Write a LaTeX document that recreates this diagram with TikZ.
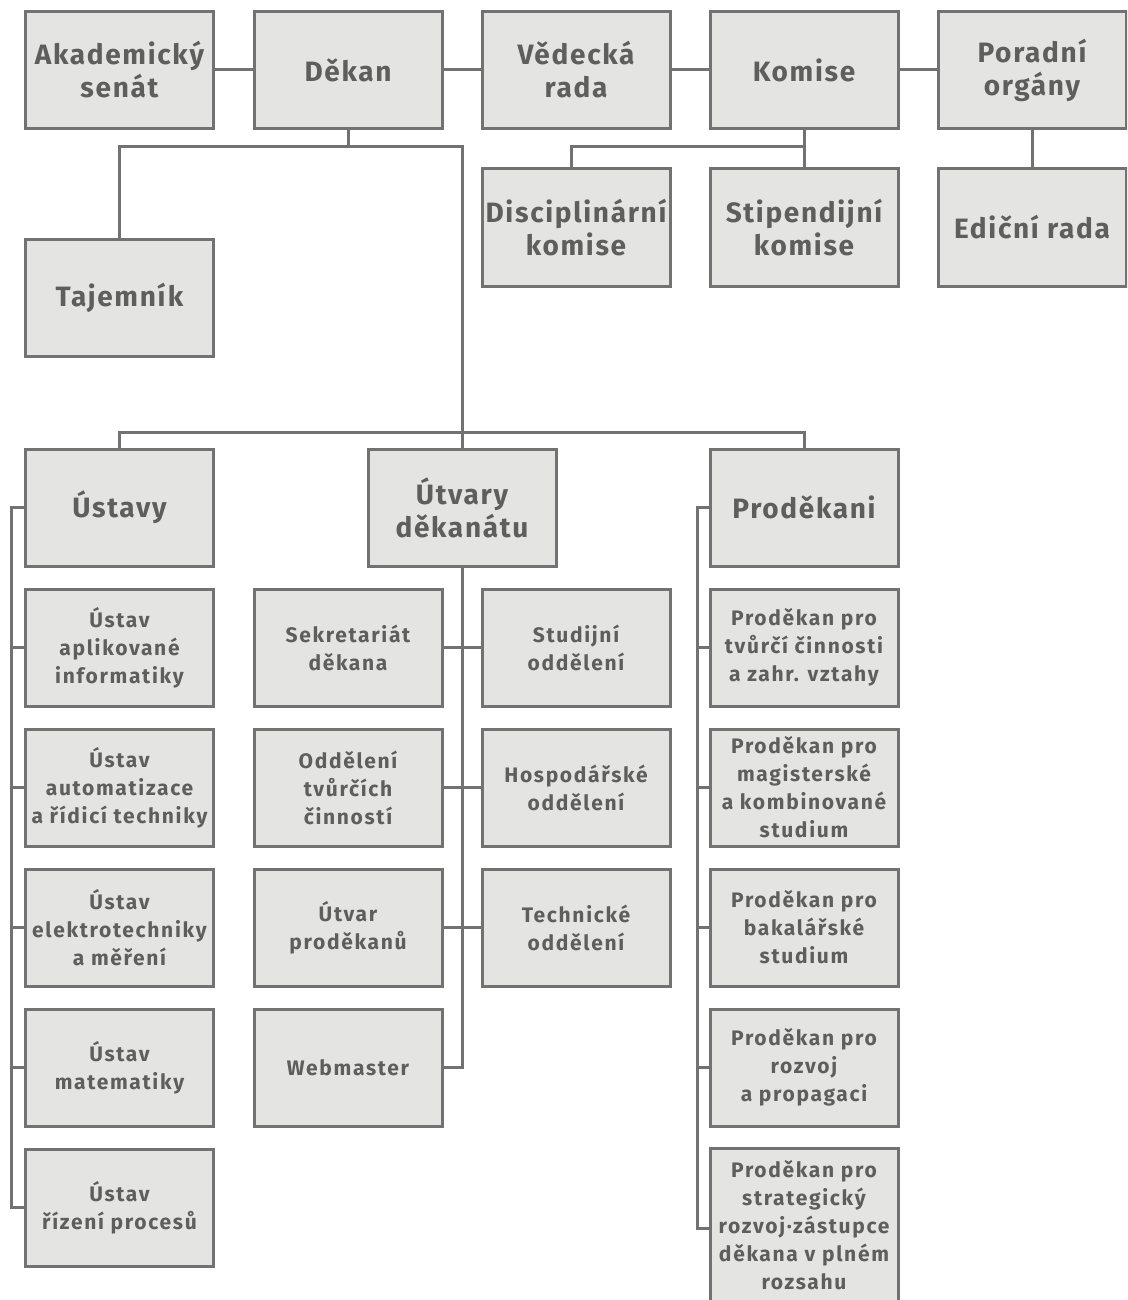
\documentclass[tikz,border=0pt]{standalone}
\usepackage{fontspec}
\setmainfont{Fira Sans}[LetterSpace=8]
\newfontfamily\bigfont{Fira Sans}[LetterSpace=6]
\usetikzlibrary{calc}
\definecolor{boxfill}{HTML}{E4E5E3}
\definecolor{boxline}{HTML}{727272}
\definecolor{boxtext}{HTML}{5E5E5E}
\begin{document}
\begin{tikzpicture}[x=1pt,y=-1pt,
  box/.style={draw=boxline, line width=3pt, fill=boxfill, text=boxtext,
    minimum width=188pt, minimum height=117pt, align=center, inner sep=0pt,
    font=\bfseries\fontsize{21}{28}\selectfont},
  big/.style={font=\bigfont\bfseries\fontsize{28}{33}\selectfont},
  link/.style={draw=boxline, line width=3pt}]
\useasboundingbox (0,0) rectangle (1127,1300);
\clip (0,0) rectangle (1127,1300);
\coordinate (ubus) at (11,0);
\coordinate (pbus) at (697,0);
\coordinate (lev1) at (0,147);
\coordinate (lev2) at (0,432);
% top row
\node[box,big] (aks) at (119.5,70) {Akademický\\senát};
\node[box,big] (dekan) at (348,70) {Děkan};
\node[box,big] (vr) at (576,70) {Vědecká\\rada};
\node[box,big] (kom) at (804,70) {Komise};
\node[box,big] (por) at (1032,70) {Poradní\\orgány};
% second row
\node[box,big] (disc) at (576,227.5) {Disciplinární\\komise};
\node[box,big] (stip) at (804,227.5) {Stipendijní\\komise};
\node[box,big] (edi) at (1032,227.5) {Ediční rada};
\node[box,big] (taj) at (119.5,297.5) {Tajemník};
% third level
\node[box,big] (ust) at (119.5,507.5) {Ústavy};
\node[box,big] (utv) at (462,507.5) {Útvary\\děkanátu};
\node[box,big] (prod) at (804,507.5) {Proděkani};
% ustavy
\node[box] (u1) at (119.5,647.5) {Ústav\\aplikované\\informatiky};
\node[box] (u2) at (119.5,787.5) {Ústav\\automatizace\\a řídicí techniky};
\node[box] (u3) at (119.5,927.5) {Ústav\\elektrotechniky\\a měření};
\node[box] (u4) at (119.5,1067.5) {Ústav\\matematiky};
\node[box] (u5) at (119.5,1207.5) {Ústav\\řízení procesů};
% utvary
\node[box] (sek) at (348,647.5) {Sekretariát\\děkana};
\node[box] (stud) at (576,647.5) {Studijní\\oddělení};
\node[box] (odd) at (348,787.5) {Oddělení\\tvůrčích\\činností};
\node[box] (hosp) at (576,787.5) {Hospodářské\\oddělení};
\node[box] (utpr) at (348,927.5) {Útvar\\proděkanů};
\node[box] (tech) at (576,927.5) {Technické\\oddělení};
\node[box] (web) at (348,1067.5) {Webmaster};
% prodekani
\node[box] (p1) at (804,647.5) {Proděkan pro\\tvůrčí činnosti\\a zahr. vztahy};
\node[box] (p2) at (804,787.5) {Proděkan pro\\magisterské\\a kombinované\\studium};
\node[box] (p3) at (804,927.5) {Proděkan pro\\bakalářské\\studium};
\node[box] (p4) at (804,1067.5) {Proděkan pro\\rozvoj\\a propagaci};
\node[box, minimum height=154pt] (p5) at (804,1225) {Proděkan pro\\strategický\\rozvoj·zástupce\\děkana v plném\\rozsahu};
% connectors top row
\draw[link] (aks.east) -- (dekan.west);
\draw[link] (dekan.east) -- (vr.west);
\draw[link] (vr.east) -- (kom.west);
\draw[link] (kom.east) -- (por.west);
% dekan tree
\draw[link] (dekan.south) -- (dekan.south |- lev1);
\draw[link] (taj.north) |- (utv.north |- lev1) -- (utv.north);
\draw[link] (ust.north) |- (prod.north |- lev2) -- (prod.north);
% komise
\draw[link] (kom.south) -- (stip.north);
\draw[link] ([xshift=-5pt]disc.north) |- (kom.south |- lev1);
\draw[link] (por.south) -- (edi.north);
% ustavy bus
\draw[link] (ust.west) -- (ust.west -| ubus) |- (u5.west);
\foreach \n in {u1,u2,u3,u4} \draw[link] (\n.west) -- (\n.west -| ubus);
% utvary bus
\draw[link] (utv.south) |- (web.east);
\draw[link] (sek.east) -- (stud.west);
\draw[link] (odd.east) -- (hosp.west);
\draw[link] (utpr.east) -- (tech.west);
% prodekani bus
\draw[link] (prod.west) -- (prod.west -| pbus) |- ([yshift=-3pt]p5.west);
\foreach \n in {p1,p2,p3,p4} \draw[link] (\n.west) -- (\n.west -| pbus);
\end{tikzpicture}
\end{document}
